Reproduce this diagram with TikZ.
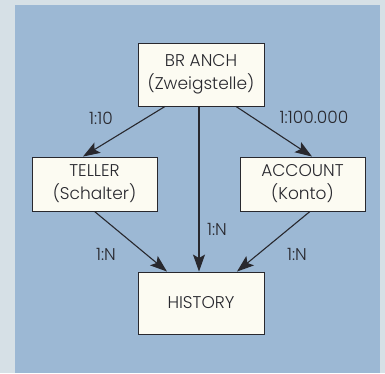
\documentclass[tikz,border=0pt]{standalone}
\usepackage{fontspec}
\setmainfont{Poppins Light}
\usetikzlibrary{arrows.meta}
\definecolor{outer}{RGB}{214,224,230}
\definecolor{panel}{RGB}{156,184,212}
\definecolor{boxfill}{RGB}{252,251,242}
\definecolor{ink}{RGB}{40,40,46}
\begin{document}
\begin{tikzpicture}[x=1pt,y=1pt,
  entity/.style={draw=ink, line width=0.9pt, fill=boxfill, align=center, inner sep=0pt, font=\fontsize{17}{23}\selectfont, text=ink},
  arr/.style={draw=ink, line width=1.1pt, -{Stealth[length=17pt,width=12pt,inset=3.5pt]}},
  lbl/.style={font=\fontsize{17}{20}\selectfont, text=ink, inner sep=0pt}]
\fill[outer] (0,0) rectangle (385,-373);
\fill[panel] (15,-5) rectangle (380,-373);
\useasboundingbox (0,0) rectangle (385,-373);
\node[entity, minimum width=126pt, minimum height=63pt] (branch) at (201,-74.5) {BR ANCH\\(Zweigstelle)};
\node[entity, minimum width=125pt, minimum height=54pt] (teller) at (94.5,-184) {TELLER\\(Schalter)};
\node[entity, minimum width=125pt, minimum height=54pt] (account) at (302.5,-184) {ACCOUNT\\(Konto)};
\node[entity, minimum width=126pt, minimum height=62pt] (history) at (201,-303) {HISTORY};
\draw[arr] ([xshift=-36pt]branch.south) -- ([xshift=-11.5pt]teller.north);
\draw[arr] ([xshift=-2pt]branch.south) -- ([xshift=-2pt]history.north);
\draw[arr] ([xshift=35pt]branch.south) -- ([xshift=9.5pt]account.north);
\draw[arr] (teller.south) -- ([xshift=-34pt]history.north);
\draw[arr] ([xshift=7.5pt]account.south) -- ([xshift=36pt]history.north);
\node[lbl] (l1) at (101,-118) {1:10};
\node[lbl] (l2) at (314,-117) {1:100.000};
\node[lbl] (l3) at (217,-229) {1:N};
\node[lbl] (l4) at (106,-254) {1:N};
\node[lbl] (l5) at (297,-254) {1:N};
\end{tikzpicture}
\end{document}
